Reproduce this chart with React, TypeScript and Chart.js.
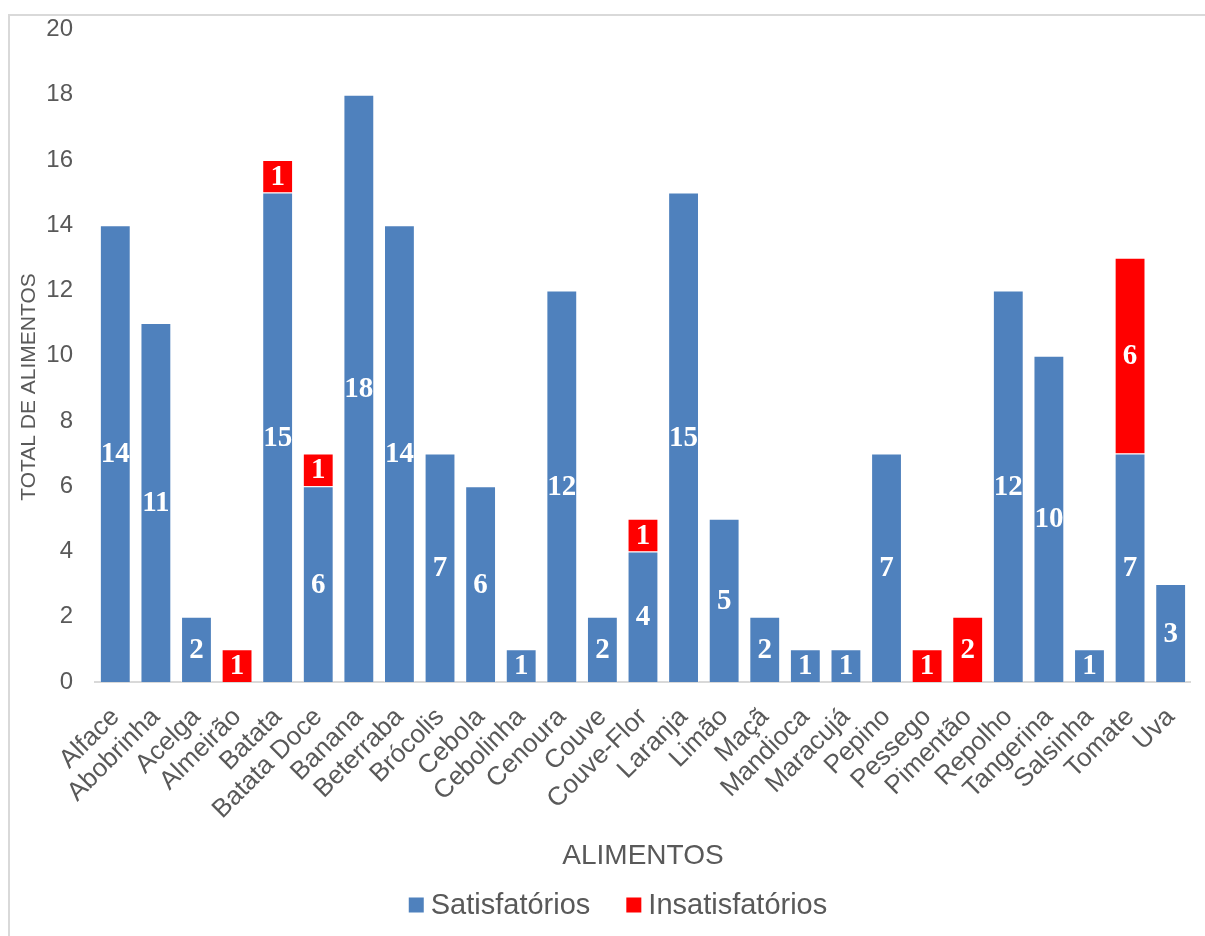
import { useEffect, useRef } from "react";
import { Chart, registerables } from "chart.js";

Chart.register(...registerables);

// Foods assessed
const categories = [
  "Alface", "Abobrinha", "Acelga", "Almeirão", "Batata", "Batata Doce", "Banana",
  "Beterraba", "Brócolis", "Cebola", "Cebolinha", "Cenoura", "Couve", "Couve-Flor",
  "Laranja", "Limão", "Maçã", "Mandioca", "Maracujá", "Pepino", "Pessego", "Pimentão",
  "Repolho", "Tangerina", "Salsinha", "Tomate", "Uva",
];

// Satisfactory samples per food
const satisfatorios = [
  14, 11, 2, 0, 15, 6, 18, 14, 7, 6, 1, 12, 2, 4, 15, 5, 2, 1, 1, 7, 0, 0, 12, 10, 1, 7, 3,
];

// Unsatisfactory samples per food
const insatisfatorios = [
  0, 0, 0, 1, 1, 1, 0, 0, 0, 0, 0, 0, 0, 1, 0, 0, 0, 0, 0, 0, 1, 2, 0, 0, 0, 6, 0,
];

const yMin = 0;
const yMax = 20;
const yStep = 2;

const TEXT = "#595959";
const SANS = "'Liberation Sans', Arial, sans-serif";

// The canvas sits slightly above the page top and runs past the right edge;
// plugin text is placed in page terms
const CANVAS_SHIFT = 7;
const CANVAS_EXTRA_W = 8;

// Writes each segment's value in white at the middle of the segment
const barValueLabels = {
  id: "barValueLabels",
  afterDatasetsDraw(chart: any) {
    const ctx = chart.ctx;
    ctx.save();
    ctx.font = "bold 29px 'Liberation Serif', 'DejaVu Serif', serif";
    ctx.fillStyle = "#ffffff";
    ctx.textAlign = "center";
    ctx.textBaseline = "middle";
    chart.data.datasets.forEach((ds: any, i: number) => {
      const meta = chart.getDatasetMeta(i);
      meta.data.forEach((bar: any, j: number) => {
        const v = ds.data[j];
        if (!v) return;
        const { x, y, base } = bar.getProps(["x", "y", "base"], true);
        ctx.fillText(String(v), x, (y + base) / 2 + 1);
      });
    });
    ctx.restore();
  },
};

// Vertical axis title
const yAxisTitle = {
  id: "yAxisTitle",
  afterDraw(chart: any) {
    const ctx = chart.ctx;
    ctx.save();
    ctx.translate(29, 387 + CANVAS_SHIFT);
    ctx.rotate(-Math.PI / 2);
    ctx.font = `21px ${SANS}`;
    ctx.fillStyle = TEXT;
    ctx.textAlign = "center";
    ctx.textBaseline = "middle";
    ctx.fillText("TOTAL DE ALIMENTOS", 0, 0);
    ctx.restore();
  },
};

// Legend row below the axis title: square swatch + series name, centred on the frame
const seriesLegend = {
  id: "seriesLegend",
  afterDraw(chart: any) {
    const ctx = chart.ctx;
    const box = 15;
    const gapText = 7;
    const gapItem = 36;
    const cy = 905 + CANVAS_SHIFT;
    const centreX = 618;
    ctx.save();
    ctx.font = `29px ${SANS}`;
    ctx.textBaseline = "middle";
    ctx.textAlign = "left";
    const items = chart.data.datasets.map((ds: any) => ({
      text: ds.label as string,
      color: ds.backgroundColor as string,
      w: ctx.measureText(ds.label).width,
    }));
    const total =
      items.reduce((s: number, it: any) => s + box + gapText + it.w, 0) +
      gapItem * (items.length - 1);
    let x = centreX - total / 2;
    items.forEach((it: any) => {
      ctx.fillStyle = it.color;
      ctx.fillRect(x, cy - box / 2, box, box);
      ctx.fillStyle = TEXT;
      ctx.fillText(it.text, x + box + gapText, cy + 1);
      x += box + gapText + it.w + gapItem;
    });
    ctx.restore();
  },
};

export default function App() {
  const canvasRef = useRef<HTMLCanvasElement | null>(null);

  useEffect(() => {
    if (!canvasRef.current) return;
    const chart = new Chart(canvasRef.current, {
      type: "bar",
      data: {
        labels: categories,
        datasets: [
          {
            label: "Satisfatórios",
            data: satisfatorios,
            backgroundColor: "#4F81BD",
            borderColor: "rgba(255,255,255,0.35)",
            borderWidth: 1,
            stack: "s",
          },
          {
            label: "Insatisfatórios",
            data: insatisfatorios,
            backgroundColor: "#FF0000",
            borderColor: "rgba(255,255,255,0.35)",
            borderWidth: 1,
            stack: "s",
          },
        ],
      },
      options: {
        responsive: false,
        animation: false,
        layout: { padding: { top: 27, right: 15, left: 0, bottom: 55 } },
        datasets: { bar: { barPercentage: 0.76, categoryPercentage: 1 } },
        scales: {
          x: {
            stacked: true,
            grid: { display: false, drawTicks: false },
            border: { display: true, color: "#D9D9D9", width: 2 },
            ticks: {
              color: TEXT,
              font: { family: SANS, size: 26 },
              minRotation: 45,
              maxRotation: 45,
              autoSkip: false,
              padding: 20,
            },
            title: {
              display: true,
              text: "ALIMENTOS",
              color: TEXT,
              font: { family: SANS, size: 28 },
              padding: { top: 0, bottom: 8 },
            },
            afterFit(scale: any) {
              scale.height = 199;
            },
          },
          y: {
            stacked: true,
            min: yMin,
            max: yMax,
            grid: { display: false, drawTicks: false },
            border: { display: false },
            ticks: {
              stepSize: yStep,
              color: TEXT,
              font: { family: SANS, size: 24 },
              padding: 22,
            },
            afterFit(scale: any) {
              scale.width = 95;
            },
          },
        },
        plugins: {
          tooltip: { enabled: false },
          legend: { display: false },
        },
      },
      plugins: [barValueLabels, yAxisTitle, seriesLegend],
    });
    return () => chart.destroy();
  }, []);

  return (
    <div style={{ position: "fixed", inset: 0, overflow: "hidden", background: "#ffffff" }}>
      <div
        style={{
          position: "absolute",
          left: 8,
          top: 14,
          right: -10,
          bottom: -10,
          borderLeft: "2px solid #D9D9D9",
          borderTop: "2px solid #D9D9D9",
        }}
      />
      <canvas
        ref={canvasRef}
        width={1205 + CANVAS_EXTRA_W}
        height={936 + CANVAS_SHIFT}
        style={{
          position: "absolute",
          left: 0,
          top: -CANVAS_SHIFT,
          width: 1205 + CANVAS_EXTRA_W,
          height: 936 + CANVAS_SHIFT,
        }}
      />
    </div>
  );
}
